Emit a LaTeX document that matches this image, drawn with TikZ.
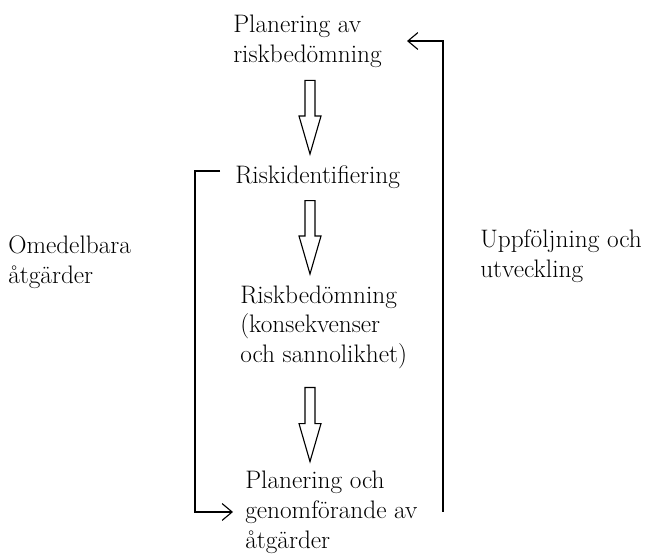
\documentclass[tikz,border=0pt]{standalone}
\usepackage{fontspec}
\usepackage{tikz}
\usetikzlibrary{arrows.meta,calc,positioning}

\tikzset{
  steptext/.style={anchor=north west, inner sep=0pt, align=left, font=\fontsize{18}{21.3}\selectfont},
  hollowarrow/.style={line width=0.8pt, to path={
      ($(\tikztostart)+(-0.125,0)$) -- ($(\tikztotarget)+(-0.125,0.95)$)
      -- ($(\tikztotarget)+(-0.275,0.95)$) -- (\tikztotarget)
      -- ($(\tikztotarget)+(0.275,0.95)$) -- ($(\tikztotarget)+(0.125,0.95)$)
      -- ($(\tikztostart)+(0.125,0)$) -- cycle}},
  loopline/.style={line width=0.8pt, -{Straight Barb[length=2.5mm,width=4.2mm]}}
}

\begin{document}
\begin{tikzpicture}
    \useasboundingbox (0,0) rectangle (16.275,-13.925);
    \coordinate (axis) at (7.75,0);

    % Steps in the middle column
    \node[steptext] (plan) at (5.825,-0.36) {Planering av\\riskbedömning};
    \node[steptext] (ident) at (5.875,-4.13) {Riskidentifiering};
    \node[steptext] (bedom) at (6.0,-7.13) {Riskbedömning\\(konsekvenser\\och sannolikhet)};
    \node[steptext] (genom) at (6.125,-11.76) {Planering och\\genomförande av\\åtgärder};

    % Side labels
    \node[steptext] (omedel) at (0.2,-5.88) {Omedelbara\\åtgärder};
    \node[steptext] (uppfolj) at (12.0,-5.73) {Uppföljning och\\utveckling};
    \coordinate (rightx) at ($(uppfolj.west)+(-0.925,0)$);

    % Hollow arrows between the steps
    \draw[hollowarrow] ($(plan.south -| axis)+(0,-0.32)$) to ($(ident.north -| axis)+(0,0.28)$);
    \draw[hollowarrow] ($(ident.south -| axis)+(0,-0.3)$) to ($(bedom.north -| axis)+(0,0.28)$);
    \draw[hollowarrow] ($(bedom.south -| axis)+(0,-0.45)$) to ($(genom.north -| axis)+(0,0.22)$);

    % Loops
    \draw[loopline] ([xshift=-0.375cm,yshift=0.15cm]ident.west) -- ++(-0.625,0) |- ([xshift=-0.3cm]genom.west);
    \draw[loopline] (rightx |- genom.center) |- ([xshift=-0.9cm]rightx |- plan.east);
\end{tikzpicture}
\end{document}
